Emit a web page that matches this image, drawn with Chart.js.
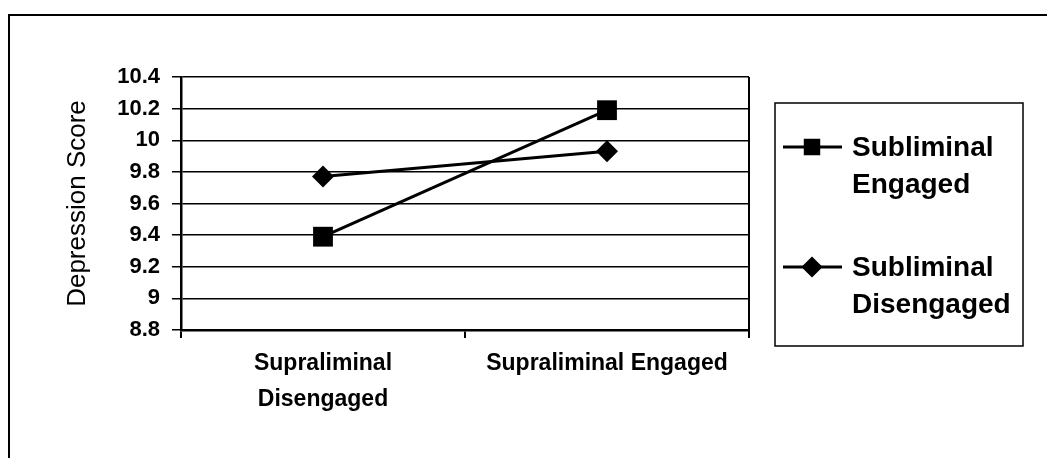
<!DOCTYPE html>
<html>
<head>
<meta charset="utf-8">
<script src="https://cdn.jsdelivr.net/npm/chart.js@4/dist/chart.umd.min.js"></script>
<style>
  body { margin: 0; background: #fff; }
  #wrap { width: 1047px; height: 458px; }
</style>
</head>
<body>
<div id="wrap"><canvas id="lineChart" width="1047" height="458"></canvas></div>
<script>
// data
var categories = [['Supraliminal', 'Disengaged'], 'Supraliminal Engaged'];
var seriesNames = [['Subliminal', 'Engaged'], ['Subliminal', 'Disengaged']];
var engagedValues = [9.39, 10.19];
var disengagedValues = [9.77, 9.93];
var yTicks = [8.8, 9, 9.2, 9.4, 9.6, 9.8, 10, 10.2, 10.4];
var yTitle = 'Depression Score';

var FONT = 'Arial, "Liberation Sans", sans-serif';

// white page, outer frame and the plot's right edge
var framePlugin = {
    id: 'frame',
    beforeDraw: function (chart) {
        var ctx = chart.ctx;
        ctx.save();
        ctx.fillStyle = '#fff';
        ctx.fillRect(0, 0, chart.width, chart.height);
        ctx.strokeStyle = '#000';
        ctx.lineWidth = 2;
        ctx.beginPath();
        ctx.moveTo(9, chart.height);
        ctx.lineTo(9, 15);
        ctx.lineTo(chart.width, 15);
        ctx.stroke();
        ctx.restore();
    },
    afterDraw: function (chart) {
        var ctx = chart.ctx;
        var a = chart.chartArea;
        ctx.save();
        ctx.strokeStyle = '#000';
        ctx.lineWidth = 2;
        ctx.beginPath();
        ctx.moveTo(a.right, a.top);
        ctx.lineTo(a.right, a.bottom + 8);
        ctx.stroke();
        ctx.restore();
    }
};

// boxed legend with two-line labels
var boxLegend = {
    id: 'boxLegend',
    afterDraw: function (chart) {
        var ctx = chart.ctx;
        var box = { x: 775, y: 103, w: 248, h: 243 };
        var rows = [147, 267];
        ctx.save();
        ctx.strokeStyle = '#000';
        ctx.lineWidth = 1.5;
        ctx.strokeRect(box.x, box.y, box.w, box.h);

        chart.data.datasets.forEach(function (ds, i) {
            var y = rows[i];
            ctx.strokeStyle = '#000';
            ctx.lineWidth = 3;
            ctx.beginPath();
            ctx.moveTo(783, y);
            ctx.lineTo(842, y);
            ctx.stroke();
            ctx.fillStyle = '#000';
            Chart.helpers.drawPoint(ctx, {
                pointStyle: ds.pointStyle,
                radius: ds.pointStyle === 'rect' ? 9.5 : 8.5,
                rotation: 0,
                borderWidth: 1
            }, 812, y);

            ctx.fillStyle = '#000';
            ctx.font = 'bold 28px ' + FONT;
            ctx.textAlign = 'left';
            ctx.textBaseline = 'middle';
            ds.label.forEach(function (line, j) {
                ctx.fillText(line, 852, y + 1 + j * 37);
            });
        });
        ctx.restore();
    }
};

var ctx = document.getElementById('lineChart').getContext('2d');
var chart = new Chart(ctx, {
    type: 'line',
    data: {
        labels: categories,
        datasets: [
            {
                label: seriesNames[0],
                data: engagedValues,
                borderColor: '#000',
                backgroundColor: '#000',
                borderWidth: 3,
                pointStyle: 'rect',
                pointRadius: 14,
                pointBorderWidth: 0,
                tension: 0
            },
            {
                label: seriesNames[1],
                data: disengagedValues,
                borderColor: '#000',
                backgroundColor: '#000',
                borderWidth: 3,
                pointStyle: 'rectRot',
                pointRadius: 11,
                pointBorderWidth: 0,
                tension: 0
            }
        ]
    },
    options: {
        responsive: false,
        animation: false,
        layout: { padding: { left: 0, top: 77, right: 298, bottom: 0 } },
        plugins: {
            legend: { display: false },
            tooltip: { enabled: false }
        },
        scales: {
            x: {
                offset: true,
                grid: {
                    offset: true,
                    drawOnChartArea: false,
                    color: '#000',
                    lineWidth: 2,
                    tickLength: 8
                },
                border: { color: '#000', width: 2.5 },
                ticks: {
                    color: '#000',
                    padding: 8,
                    maxRotation: 0,
                    autoSkip: false,
                    font: { family: FONT, size: 23, weight: 'bold', lineHeight: 1.55 }
                },
                afterFit: function (scale) { scale.height = 128; }
            },
            y: {
                min: 8.8,
                max: 10.4,
                afterBuildTicks: function (scale) {
                    scale.ticks = yTicks.map(function (v) { return { value: v }; });
                },
                grid: {
                    color: '#000',
                    lineWidth: 1.5,
                    tickLength: 9
                },
                border: { color: '#000', width: 2.5 },
                ticks: {
                    color: '#000',
                    padding: 12,
                    font: { family: FONT, size: 22, weight: 'bold' },
                    callback: function (value) { return String(Number(value.toFixed(1))); }
                },
                title: {
                    display: true,
                    text: yTitle,
                    color: '#000',
                    padding: { top: 62, bottom: 0 },
                    font: { family: FONT, size: 26, weight: 'normal' }
                },
                afterFit: function (scale) { scale.width = 181; }
            }
        }
    },
    plugins: [framePlugin, boxLegend]
});
</script>
</body>
</html>
